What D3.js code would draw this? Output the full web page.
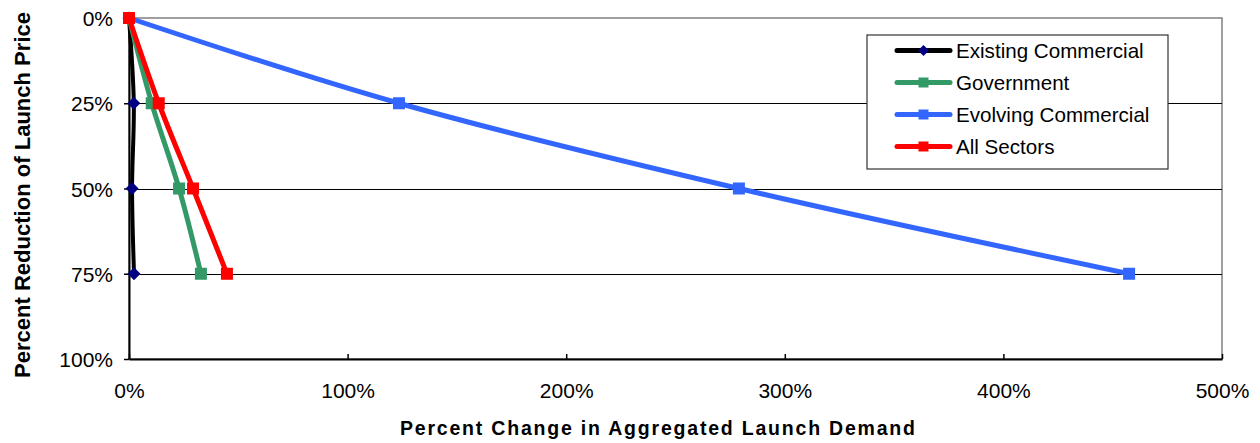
<!DOCTYPE html>
<html>
<head>
<meta charset="utf-8">
<script src="https://cdn.jsdelivr.net/npm/d3@7"></script>
<style>
  html, body { margin: 0; padding: 0; background: #fff; }
  svg { display: block; font-family: "Liberation Sans", Arial, sans-serif; }
</style>
</head>
<body>
<svg id="chart" width="1260" height="443"></svg>
<script>
// Percent reduction of launch price (y) against percent change in demand (x)
const priceReduction = [0, 25, 50, 75];
const existingCommercial = [0, 2.2, 1.4, 2.3];
const government = [0, 10.4, 22.9, 32.9];
const evolvingCommercial = [0, 123.5, 279, 457.5];
const allSectors = [0, 13.6, 29.3, 44.8];

const seriesNames = ["Existing Commercial", "Government", "Evolving Commercial", "All Sectors"];
const xTicks = [0, 100, 200, 300, 400, 500];
const yTicks = [0, 25, 50, 75, 100];

const series = [
  { name: seriesNames[0], values: existingCommercial, color: "#000000", marker: "diamond", markerColor: "#000080", width: 4 },
  { name: seriesNames[1], values: government, color: "#339966", marker: "square", markerColor: "#339966", width: 5 },
  { name: seriesNames[2], values: evolvingCommercial, color: "#3366FF", marker: "square", markerColor: "#3366FF", width: 5 },
  { name: seriesNames[3], values: allSectors, color: "#FF0000", marker: "square", markerColor: "#FF0000", width: 5 }
];

const svg = d3.select("#chart");
const plot = { left: 129, top: 18, right: 1222, bottom: 359 };

const x = d3.scaleLinear().domain([0, 500]).range([plot.left, plot.right]);
const y = d3.scaleLinear().domain([0, 100]).range([plot.top, plot.bottom]);

// plot frame (top and right edges)
svg.append("rect")
  .attr("x", plot.left).attr("y", plot.top)
  .attr("width", plot.right - plot.left).attr("height", plot.bottom - plot.top)
  .attr("fill", "none").attr("stroke", "#808080").attr("stroke-width", 1.5);

// horizontal gridlines
svg.append("g").selectAll("line")
  .data(yTicks.filter(d => d > 0 && d < 100))
  .join("line")
  .attr("x1", plot.left).attr("x2", plot.right)
  .attr("y1", d => Math.round(y(d)) + 0.5).attr("y2", d => Math.round(y(d)) + 0.5)
  .attr("stroke", "#000").attr("stroke-width", 1.2);

// axes
const fmt = d => d + "%";
const xAxis = svg.append("g")
  .attr("transform", `translate(0,${plot.bottom})`)
  .call(d3.axisBottom(x).tickValues(xTicks).tickFormat(fmt).tickSizeInner(-5).tickSizeOuter(0).tickPadding(24));
const yAxis = svg.append("g")
  .attr("transform", `translate(${plot.left},0)`)
  .call(d3.axisLeft(y).tickValues(yTicks).tickFormat(fmt).tickSizeInner(5).tickSizeOuter(0).tickPadding(11));

[xAxis, yAxis].forEach(a => {
  a.select(".domain").attr("stroke", "#000").attr("stroke-width", 2);
  a.selectAll(".tick line").attr("stroke", "#000").attr("stroke-width", 1.5);
  a.selectAll(".tick text")
    .attr("fill", "#000")
    .style("font-family", "'Liberation Sans', Arial, sans-serif")
    .style("font-size", "21px");
});
yAxis.selectAll(".tick text").attr("dy", "0.36em");

// axis titles
svg.append("text")
  .attr("x", 657.5).attr("y", 435)
  .attr("text-anchor", "middle")
  .attr("textLength", 515).attr("lengthAdjust", "spacing")
  .style("font-size", "19.5px").style("font-weight", "bold")
  .text("Percent Change in Aggregated Launch Demand");

svg.append("text")
  .attr("transform", "translate(29.5,195) rotate(-90)")
  .attr("text-anchor", "middle")
  .attr("textLength", 366).attr("lengthAdjust", "spacingAndGlyphs")
  .style("font-size", "22px").style("font-weight", "bold")
  .text("Percent Reduction of Launch Price");

// series lines and markers
const line = d3.line()
  .x(d => x(d[0])).y(d => y(d[1]))
  .curve(d3.curveCatmullRom.alpha(0.5));

function drawMarker(g, kind, color, cx, cy, s) {
  if (kind === "diamond") {
    const h = s / 2 + 0.5;
    g.append("path")
      .attr("d", `M${cx},${cy - h}L${cx + h},${cy}L${cx},${cy + h}L${cx - h},${cy}Z`)
      .attr("fill", color);
  } else {
    g.append("rect").attr("x", cx - s / 2).attr("y", cy - s / 2).attr("width", s).attr("height", s).attr("fill", color);
  }
}

series.forEach(s => {
  const pts = s.values.map((v, i) => [v, priceReduction[i]]);
  const g = svg.append("g");
  g.append("path")
    .attr("d", line(pts))
    .attr("fill", "none").attr("stroke", s.color)
    .attr("stroke-width", s.width).attr("stroke-linejoin", "round");
  pts.forEach(p => drawMarker(g, s.marker, s.markerColor, x(p[0]), y(p[1]), 12));
});

// legend
const legend = svg.append("g");
legend.append("rect")
  .attr("x", 867).attr("y", 35).attr("width", 301).attr("height", 134)
  .attr("fill", "#fff").attr("stroke", "#333").attr("stroke-width", 1.2);
series.forEach((s, i) => {
  const cy = 50.5 + 32 * i;
  legend.append("line")
    .attr("x1", 897).attr("x2", 950).attr("y1", cy).attr("y2", cy)
    .attr("stroke", s.color).attr("stroke-width", 5).attr("stroke-linecap", "round");
  drawMarker(legend, s.marker, s.markerColor, 923.5, cy, 10);
  legend.append("text")
    .attr("x", 956).attr("y", cy + 7.5)
    .style("font-size", "20.6px")
    .text(s.name);
});
</script>
</body>
</html>
